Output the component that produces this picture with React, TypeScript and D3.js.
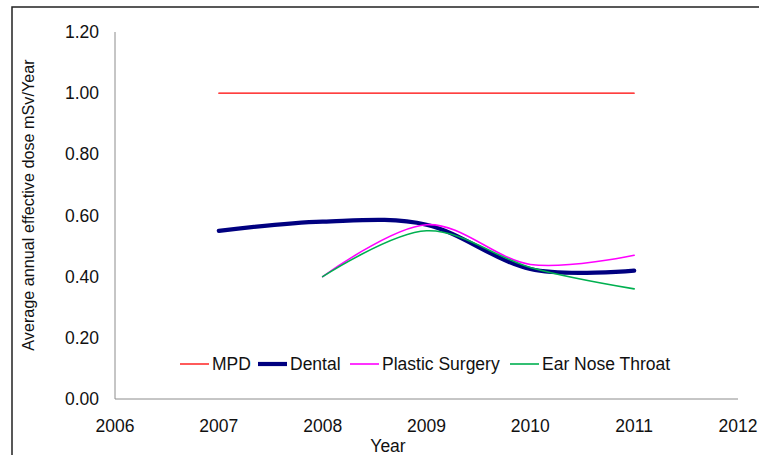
import React from "react";
import * as d3 from "d3";

const years = [2007, 2008, 2009, 2010, 2011];
const mpd = [1.0, 1.0, 1.0, 1.0, 1.0];
const dental = [0.55, 0.58, 0.57, 0.425, 0.42];
const plasticYears = [2008, 2009, 2010, 2011];
const plastic = [0.4, 0.57, 0.44, 0.47];
const entYears = [2008, 2009, 2010, 2011];
const ent = [0.4, 0.55, 0.43, 0.36];
const xTicks = [2006, 2007, 2008, 2009, 2010, 2011, 2012];
const yTicks = [0, 0.2, 0.4, 0.6, 0.8, 1.0, 1.2];
const seriesNames = ["MPD", "Dental", "Plastic Surgery", "Ear Nose Throat"];

const W = 759;
const H = 455;
const FONT = "'Liberation Sans', Arial, sans-serif";

export default function App() {
  const x = d3.scaleLinear().domain([2006, 2012]).range([115, 738]);
  const y = d3.scaleLinear().domain([0, 1.2]).range([399, 32]);
  const fmt = d3.format(".2f");

  const series = [
    { name: seriesNames[0], xs: years, ys: mpd, color: "#FF0000", w: 1.3, smooth: false },
    { name: seriesNames[1], xs: years, ys: dental, color: "#000080", w: 4.2, smooth: true },
    { name: seriesNames[2], xs: plasticYears, ys: plastic, color: "#FF00FF", w: 1.6, smooth: true },
    { name: seriesNames[3], xs: entYears, ys: ent, color: "#00B050", w: 1.6, smooth: true },
  ];

  const makePath = (s: any) => {
    const gen = d3
      .line<number>()
      .x((_, i) => x(s.xs[i]))
      .y((v) => y(v))
      .curve(s.smooth ? d3.curveCatmullRom.alpha(0) : d3.curveLinear);
    return gen(s.ys) || "";
  };

  const legendX = [180, 258, 350, 510];
  const legendY = 364;
  const fs = 17.5;

  return (
    <svg
      width={W}
      height={H}
      style={{ position: "fixed", left: 0, top: 0, background: "#fff" }}
      fontFamily={FONT}
    >
      <rect x={0} y={0} width={W} height={H} fill="#fff" />
      <rect x={12} y={7} width={W + 20} height={H + 20} fill="none" stroke="#222" strokeWidth={1.5} />
      <line x1={x(2006)} x2={x(2006)} y1={y(1.2)} y2={y(0)} stroke="#8c8c8c" strokeWidth={1} />
      <line x1={x(2006)} x2={x(2012)} y1={y(0)} y2={y(0)} stroke="#8c8c8c" strokeWidth={1} />
      {yTicks.map((t) => (
        <text key={t} x={99} y={y(t)} dy="0.35em" textAnchor="end" fontSize={fs} fill="#111">
          {fmt(t)}
        </text>
      ))}
      {xTicks.map((t) => (
        <text key={t} x={x(t)} y={426} dy="0.35em" textAnchor="middle" fontSize={fs} fill="#111">
          {t}
        </text>
      ))}
      <text x={388} y={446} dy="0.35em" textAnchor="middle" fontSize={fs} fill="#111">
        Year
      </text>
      <text
        transform={`translate(28,205) rotate(-90)`}
        dy="0.35em"
        textAnchor="middle"
        fontSize={16.2}
        fill="#111"
      >
        Average annual effective dose mSv/Year
      </text>
      {series.map((s) => (
        <path
          key={s.name}
          d={makePath(s)}
          fill="none"
          stroke={s.color}
          strokeWidth={s.w}
          strokeLinecap="round"
          strokeLinejoin="round"
        />
      ))}
      {series.map((s, i) => (
        <g key={"lg" + s.name} transform={`translate(${legendX[i]},${legendY})`}>
          <line x1={0} x2={29} y1={0} y2={0} stroke={s.color} strokeWidth={s.w} />
          <text x={32} y={0} dy="0.35em" fontSize={fs} fill="#111">
            {s.name}
          </text>
        </g>
      ))}
    </svg>
  );
}
